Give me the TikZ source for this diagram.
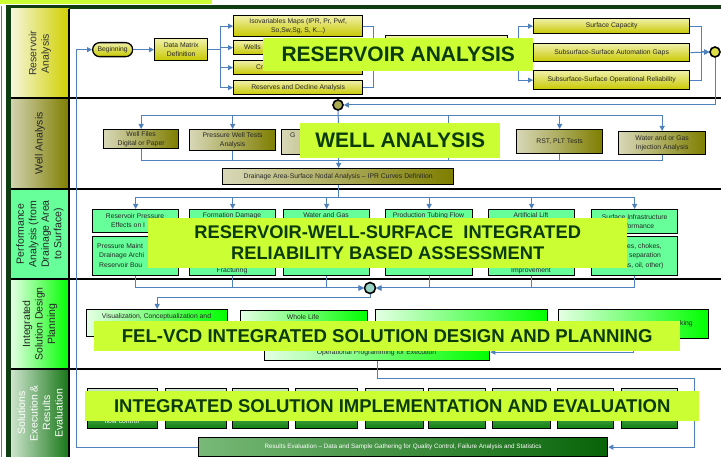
\documentclass[tikz,border=0pt]{standalone}
\usepackage{fontspec}
\setmainfont{Liberation Sans}
\usetikzlibrary{arrows.meta,calc}
\definecolor{limeb}{HTML}{CCFF33}
\definecolor{bantxt}{HTML}{0B3B0B}
\definecolor{framec}{HTML}{0E3E12}
\definecolor{connc}{HTML}{4F81BD}
\definecolor{ylw}{HTML}{C8C800}
\definecolor{ylwl}{HTML}{F0F0A8}
\definecolor{olv}{HTML}{7E7E00}
\definecolor{olvl}{HTML}{D8D8B8}
\definecolor{mint}{HTML}{66FF99}
\definecolor{grn}{HTML}{00FF00}
\definecolor{grnl}{HTML}{E4FFE4}
\definecolor{dgrn}{HTML}{0E800E}
\definecolor{dgrnl}{HTML}{CDE8CD}
\tikzset{
  bx/.style n args={4}{anchor=north west, at={(#1,#2)},
    minimum width={(#3-#1)*1pt}, minimum height={(#4-#2)*1pt}},
  cell/.style={inner sep=0pt, outer sep=0pt, draw=none},
  labtxt/.style={rotate=90, align=center, inner sep=0pt,
    font=\fontsize{10.5}{12.5}\selectfont},
  box/.style={draw=black, line width=1.3pt, inner sep=1pt, align=center,
    font=\fontsize{6.8}{9}\selectfont, text=black!85},
  ybox/.style={box, top color=ylwl, bottom color=ylw},
  obox/.style={box, left color=olvl, right color=olv},
  mbox/.style={box, fill=mint},
  gbox/.style={box, left color=grnl, right color=grn},
  dbox/.style={box, top color=dgrnl, bottom color=dgrn, text=white},
  frag/.style={inner sep=0pt, font=\fontsize{6.8}{9}\selectfont, text=black!85},
  conn/.style={draw=connc, line width=1pt},
  arr/.style={-{Triangle[length=5pt,width=5pt]}},
  circ/.style={circle, draw=black, line width=1.6pt, minimum size=10pt, inner sep=0pt},
  banner/.style={fill=limeb, inner sep=0pt, align=center, text=bantxt},
}
\begin{document}
\begin{tikzpicture}[x=1pt,y=-1pt]
\useasboundingbox (0,0) rectangle (721,457);
\fill[white] (0,0) rectangle (721,457);
\fill[limeb] (0,0) rectangle (212,4);
\fill[framec] (6,5) rectangle (721,9);
\fill[framec] (6,5) rectangle (11,457);
\draw[black!55, line width=0.8pt] (1,6) -- (1,457);

% ---------- label column ----------
\node[cell, bx={11}{9}{69}{98}, left color={rgb,255:red,246;green,246;blue,220}, right color={rgb,255:red,208;green,208;blue,0}] (L1) {};
\node[cell, bx={11}{98}{69}{189}, left color={rgb,255:red,210;green,210;blue,175}, right color=olv] (L2) {};
\node[cell, bx={11}{189}{69}{279}, fill=mint] (L3) {};
\node[cell, bx={11}{279}{69}{369}, left color=grnl, right color=grn] (L4) {};
\node[cell, bx={11}{369}{69}{457}, left color={rgb,255:red,205;green,228;blue,205}, right color={rgb,255:red,22;green,118;blue,22}] (L5) {};
\node[labtxt, text=black!80] (L1t) at (L1.center) {Reservoir\\Analysis};
\node[labtxt, text=black!85] (L2t) at (L2.center) {Well Analysis};
\node[labtxt, text=black!85] (L3t) at (L3.center) {Performance\\Analysis (from\\Drainage Area\\to Surface)};
\node[labtxt, text=black!85] (L4t) at (L4.center) {Integrated\\Solution Design\\Planning};
\node[labtxt, text=white] (L5t) at (L5.center) {Solutions\\Execution \&\\Results\\Evaluation};

\draw[line width=2pt] (11,98) -- (721,98);
\draw[line width=2pt] (11,189) -- (721,189);
\draw[line width=2pt] (11,279) -- (721,279);
\draw[line width=2pt] (11,369) -- (721,369);
\draw[line width=2pt] (69,9) -- (69,457);

% ---------- row 1 ----------
\node[ybox, bx={92}{42}{132}{56}, rounded corners=7pt] (beg) {Beginning};
\node[ybox, bx={154}{38}{207}{60}] (dm) {Data Matrix\\Definition};
\node[ybox, bx={233}{15}{362}{36}] (iso) {Isovariables Maps (IPR, Pr, Pwf,\\So,Sw,Sg, S, K...)};
\node[ybox, bx={233}{40}{362}{54}] (we) {};
\node[ybox, bx={233}{60}{362}{74}] (cr) {};
\node[ybox, bx={233}{80}{362}{94}] (re) {Reserves and Decline Analysis};
\node[frag, anchor=west] (wet) at (244,47) {Wells};
\node[frag, anchor=west] (crt) at (256,67) {Cr};
\node[ybox, bx={385}{35}{507}{70}] (hb) {};
\node[ybox, bx={533}{18}{689}{33}] (sc) {Surface Capacity};
\node[ybox, bx={533}{43}{689}{61}] (sa) {Subsurface-Surface Automation Gaps};
\node[ybox, bx={533}{70}{689}{89}] (so) {Subsurface-Surface Operational Reliability};
\node[circ, fill={rgb,255:red,222;green,222;blue,70}] (c1) at (715,52) {};

% ---------- row 2 ----------
\node[circ, fill={rgb,255:red,170;green,170;blue,80}] (c2) at (338,105) {};
\node[obox, bx={103}{129}{178}{148}] (wf) {Well Files\\Digital or Paper};
\node[obox, bx={189}{129}{275}{150}] (pw) {Pressure Well Tests\\Analysis};
\node[obox, bx={281}{129}{395}{154}] (gb) {};
\node[frag, anchor=west] (gbt) at (290,135) {G};
\node[obox, bx={402}{129}{494}{154}] (gb2) {};
\node[obox, bx={516}{129}{602}{153}] (rst) {RST, PLT Tests};
\node[obox, bx={618}{131}{705}{154}] (wi) {Water and or Gas\\Injection Analysis};
\node[obox, bx={222}{168}{453}{184}] (dr) {Drainage Area-Surface Nodal Analysis – IPR Curves Definition};

% ---------- row 3 ----------
\node[mbox, bx={92}{209}{178}{232}] (p1) {};
\node[mbox, bx={189}{209}{275}{232}] (p2) {};
\node[mbox, bx={283}{209}{369}{232}] (p3) {};
\node[mbox, bx={385}{209}{472}{232}] (p4) {};
\node[mbox, bx={488}{209}{574}{232}] (p5) {};
\node[mbox, bx={591}{209}{677}{233}] (p6) {Surface Infrastructure\\Performance};
\node[mbox, bx={92}{236}{178}{275}] (q1) {};
\node[mbox, bx={189}{236}{275}{275}] (q2) {};
\node[mbox, bx={283}{236}{369}{275}] (q3) {};
\node[mbox, bx={385}{236}{472}{275}] (q4) {};
\node[mbox, bx={488}{236}{574}{275}] (q5) {};
\node[mbox, bx={591}{236}{677}{275}] (q6) {};
\node[frag] (p1a) at (135,216) {Reservoir Pressure};
\node[frag, anchor=west] (p1b) at (111,225.5) {Effects on I};
\node[frag] (p2a) at (232,215.5) {Formation Damage};
\node[frag] (p3a) at (326,215.5) {Water and Gas};
\node[frag] (p4a) at (428.5,215.5) {Production Tubing Flow};
\node[frag] (p5a) at (531,215) {Artificial Lift};
\node[frag, anchor=west] (q1a) at (97,246) {Pressure Maint};
\node[frag, anchor=west] (q1b) at (99,256) {Drainage Archi};
\node[frag, anchor=west] (q1c) at (99,265.5) {Reservoir Bou};
\node[frag] (q2a) at (232,270.5) {Fracturing};
\node[frag] (q5a) at (531,271) {Improvement};
\node[frag, anchor=west] (q6a) at (627,246) {es, chokes,};
\node[frag, anchor=west] (q6b) at (629,256) {separation};
\node[frag, anchor=west] (q6c) at (624,265.5) {as, oil, other)};
\node[circ, minimum size=11pt, fill={rgb,255:red,150;green,212;blue,198}] (c3) at (370,288) {};

% ---------- row 4 ----------
\node[gbox, bx={86}{309}{227}{336}] (vis) {};
\node[gbox, bx={240}{310}{367}{338}] (wl) {};
\node[gbox, bx={375}{309}{547}{338}] (rel) {};
\node[gbox, bx={558}{309}{708}{338}] (bm) {};
\node[gbox, bx={264}{343}{489}{360}] (op) {};
\node[frag] (v1) at (156.5,317) {Visualization, Conceptualization and};
\node[frag] (w1) at (303,317) {Whole Life};
\node[frag, anchor=west] (bm1) at (680,324) {king};
\node[frag] (op1) at (376.5,352.5) {Operational Programming for Execution};

% ---------- row 5 ----------
\node[dbox, bx={87}{388}{157}{428}] (d1) {};
\node[dbox, bx={165}{388}{226}{428}] (d2) {};
\node[dbox, bx={232}{388}{288}{428}] (d3) {};
\node[dbox, bx={295}{388}{357}{428}] (d4) {};
\node[dbox, bx={365}{388}{423}{428}] (d5) {};
\node[dbox, bx={428}{388}{485}{428}] (d6) {};
\node[dbox, bx={492}{388}{550}{428}] (d7) {};
\node[dbox, bx={557}{388}{613}{428}] (d8) {};
\node[dbox, bx={621}{388}{677}{428}] (d9) {};
\node[frag, text=white] (d1a) at (122,421.5) {flow control};
\node[box, bx={198}{437}{607}{456}, left color={rgb,255:red,120;green,185;blue,120}, right color={rgb,255:red,8;green,100;blue,8}, text=white, font=\fontsize{6.3}{8}\selectfont] (res) {Results Evaluation – Data and Sample Gathering for Quality Control, Failure Analysis and Statistics};

% ---------- connectors ----------
\coordinate (k1) at (220,0);
\coordinate (k2) at (373,0);
\coordinate (k3) at (518,0);
\coordinate (k4) at (701,0);
\coordinate (k6) at (76,0);
\coordinate (t2) at (338,116);
\coordinate (b2) at (338,161);
\coordinate (t3) at (338,198);
\coordinate (k5) at (694,379);

\draw[conn, arr] (beg) -- (dm);
\foreach \n in {iso,we,cr,re}{\draw[conn, arr] (dm.east) -- (dm.east -| k1) |- (\n.west);}
\draw[conn, arr] (iso.east) -- (iso.east -| k2) |- (hb.west);
\draw[conn, arr] (re.east) -- (re.east -| k2) |- (hb.west);
\foreach \n in {sc,sa,so}{\draw[conn, arr] (hb.east) -- (hb.east -| k3) |- (\n.west);}
\draw[conn, arr] (sc.east) -- (sc.east -| k4) |- (c1.west);
\draw[conn, arr] (so.east) -- (so.east -| k4) |- (c1.west);
\draw[conn, arr] (sa.east) -- (c1.west);
\draw[conn, arr] (c1.south) |- (c2.east);

\draw[conn, arr] (c2.south) -- (gb.north);
\foreach \n in {wf,pw,rst,wi}{\draw[conn, arr] (t2) -| (\n.north);}
\draw[conn] (t2) -| (gb2.north);
\foreach \n in {wf,pw,rst,wi,gb2}{\draw[conn] (\n.south) |- (b2);}
\draw[conn, arr] (gb.south) -- (gb.south |- dr.north);

\draw[conn] (dr.south) -- (dr.south |- t3);
\foreach \n in {p1,p2,p3,p4,p5,p6}{\draw[conn, arr] (t3) -| (\n.north);}
\foreach \n in {q1,q2,q3}{\draw[conn, arr] (\n.south) |- (c3.west);}
\foreach \n in {q4,q5,q6}{\draw[conn, arr] (\n.south) |- (c3.east);}
\draw[conn, arr] (c3.south) -- ++(0,3.5) -| (vis.north);

\draw[conn, arr] (vis.east) -- (vis.east -| wl.west);
\draw[conn, arr] (wl.east) -- (wl.east -| rel.west);
\draw[conn, arr] (bm.south) |- (op.east);
\draw[conn, arr] (op.south) |- (k5) |- (res.east);
\draw[conn, arr] (res.west) -- (res.west -| k6) |- (beg.west);

% ---------- banners ----------
\node[banner, bx={263}{38}{533}{71}, font=\fontsize{21}{24}\bfseries] (ban1) {RESERVOIR ANALYSIS};
\node[banner, bx={300}{123}{500}{158}, font=\fontsize{21}{24}\bfseries] (ban2) {WELL ANALYSIS};
\node[banner, bx={148}{218}{627}{268}, font=\fontsize{18.3}{21}\bfseries] (ban3) {RESERVOIR-WELL-SURFACE\ \ INTEGRATED\\RELIABILITY BASED ASSESSMENT};
\node[banner, bx={94}{321}{680}{351}, font=\fontsize{18.6}{21}\bfseries] (ban4) {FEL-VCD INTEGRATED SOLUTION DESIGN AND PLANNING};
\node[banner, bx={85}{391}{699}{421}, font=\fontsize{18.5}{21}\bfseries] (ban5) {INTEGRATED SOLUTION IMPLEMENTATION AND EVALUATION};
\end{tikzpicture}
\end{document}
